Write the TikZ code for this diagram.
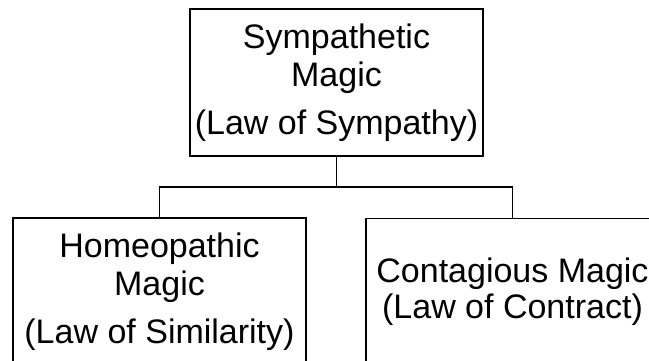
\documentclass[tikz,border=0pt]{standalone}
\usepackage{fontspec}
\setmainfont{Liberation Sans}
\begin{document}
\begin{tikzpicture}[x=1pt,y=-1pt,
  box/.style={draw, line width=1.5pt, minimum width=293pt, minimum height=147pt,
    inner sep=0pt, align=center, font=\fontsize{34}{38}\selectfont},
  link/.style={line width=1.2pt}]
\useasboundingbox (0,0) rectangle (649,360);
\clip (0,0) rectangle (649,360);
\node[box] (top) at (336.5,82.5) {Sympathetic\\Magic\\[10pt](Law of Sympathy)};
\node[box] (left) at (159.5,291.5) {Homeopathic\\Magic\\[10pt](Law of Similarity)};
\node[box, font=\fontsize{34}{36}\selectfont] (right) at (512.5,292) {Contagious Magic\\(Law of Contract)};
\coordinate (j) at (336.5,187);
\draw[link] (top.south) -- (j);
\draw[link] (j) -| (left.north);
\draw[link] (j) -| (right.north);
\end{tikzpicture}
\end{document}
